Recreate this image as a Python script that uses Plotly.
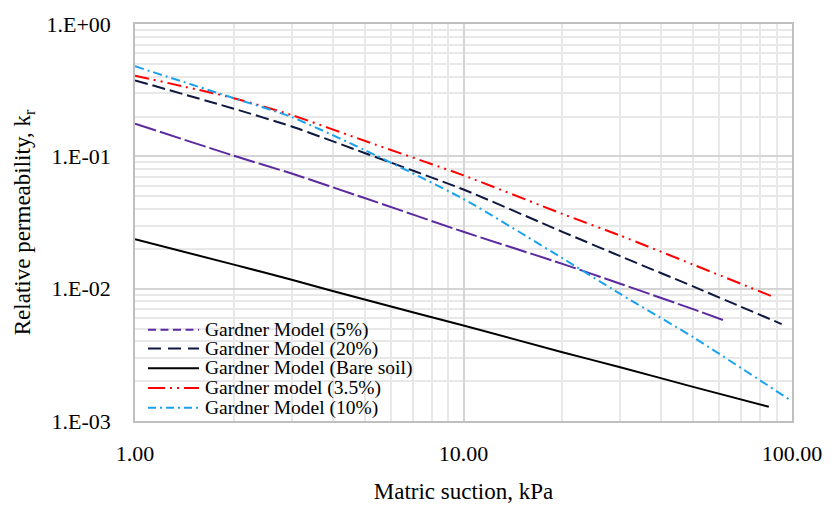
import plotly.graph_objects as go

# Matric suction (kPa) and relative permeability k_r for each Gardner model curve
suction_5 = [1, 2, 3, 5, 10, 20, 30, 50, 62]
kr_5 = [0.1765, 0.101, 0.0741, 0.0484, 0.0269, 0.0154, 0.0109, 0.0070, 0.00577]

suction_20 = [1, 2, 3, 5, 10, 20, 30, 50, 93]
kr_20 = [0.375, 0.229, 0.168, 0.106, 0.0561, 0.0269, 0.0176, 0.0104, 0.0054]

suction_bare = [1, 2, 3, 5, 10, 20, 30, 50, 85]
kr_bare = [0.0236, 0.0152, 0.01166, 0.00827, 0.00527, 0.00331, 0.00255, 0.00181, 0.00128]

suction_3p5 = [1, 2, 3, 5, 10, 20, 30, 50, 87.5]
kr_3p5 = [0.407, 0.275, 0.205, 0.131, 0.0718, 0.0367, 0.0252, 0.0152, 0.0087]

suction_10 = [1, 2, 3, 5, 10, 20, 30, 50, 100]
kr_10 = [0.479, 0.275, 0.198, 0.1116, 0.0476, 0.0170, 0.00912, 0.0043, 0.00141]

series_names = [
    "Gardner Model (5%)",
    "Gardner Model (20%)",
    "Gardner Model (Bare soil)",
    "Gardner model (3.5%)",
    "Gardner Model (10%)",
]

x_tickvals = [1, 10, 100]
x_ticktext = ["1.00", "10.00", "100.00"]
y_tickvals = [0.001, 0.01, 0.1, 1]
y_ticktext = ["1.E-03", "1.E-02", "1.E-01", "1.E+00"]

FONT = "Liberation Serif"

# colour, dash on the curve, dash in the key
styles = [
    ("#5B2A9E", "22px,4px", "8px,4.5px"),
    ("#0E1840", "13px,5px", "13px,7px"),
    ("#000000", "solid", "solid"),
    ("#FF0000", "14px,5px,2px,5px,2px,5px", "17px,5px,2px,5px,2px,5px"),
    ("#1AA3EC", "9px,4px,2px,4px", "8px,4px,2px,4px"),
]

data = [
    (suction_5, kr_5),
    (suction_20, kr_20),
    (suction_bare, kr_bare),
    (suction_3p5, kr_3p5),
    (suction_10, kr_10),
]

fig = go.Figure()
for (xs, ys), name, (color, dash, _) in zip(data, series_names, styles):
    fig.add_trace(go.Scatter(
        x=xs, y=ys, name=name, mode="lines",
        line=dict(color=color, width=2, dash=dash, shape="spline", smoothing=0.6),
        showlegend=False,
    ))

# Plot-area geometry in pixels (used for the key placed inside the plot)
L, R, T, B = 135, 792, 17, 439
W, H = 836, 512
pw, ph = R - L, B - T


def px_x(p):
    return (p - L) / pw


def px_y(p):
    return (B - p) / ph


shapes = []
annotations = []
# white key box
shapes.append(dict(type="rect", xref="paper", yref="paper", layer="between",
                   x0=px_x(140), x1=px_x(414), y0=px_y(435), y1=px_y(330),
                   fillcolor="white", line=dict(width=0)))
rows = [342, 362, 383, 404, 425]
for row, name, (color, _, kdash) in zip(rows, series_names, styles):
    shapes.append(dict(type="line", xref="paper", yref="paper", layer="above",
                       x0=px_x(148), x1=px_x(199), y0=px_y(row), y1=px_y(row),
                       line=dict(color=color, width=2, dash=kdash)))
    annotations.append(dict(xref="paper", yref="paper", x=px_x(203), y=px_y(row),
                            text=name, showarrow=False, xanchor="left", yanchor="middle",
                            font=dict(family=FONT, size=19.5, color="#000000")))

grid_major = "#D4D4D4"
grid_minor = "#E8E8E8"

fig.update_layout(
    width=W, height=H,
    margin=dict(l=L, r=W - R, t=T, b=H - B),
    paper_bgcolor="white", plot_bgcolor="white",
    font=dict(family=FONT, size=22, color="#000000"),
    shapes=shapes, annotations=annotations,
    showlegend=False,
    xaxis=dict(
        type="log", range=[0, 2],
        tickvals=x_tickvals, ticktext=x_ticktext,
        tickfont=dict(family=FONT, size=22),
        showgrid=True, gridcolor=grid_major, gridwidth=1.5,
        minor=dict(tickvals=[2, 3, 4, 5, 6, 7, 8, 9, 20, 30, 40, 50, 60, 70, 80, 90],
                   showgrid=True, gridcolor=grid_minor, gridwidth=1.5),
        showline=True, linecolor="#BFBFBF", linewidth=1.5, mirror=True,
        ticks="", ticklabelstandoff=12, zeroline=False,
        title=dict(text="Matric suction, kPa", font=dict(family=FONT, size=23), standoff=18),
    ),
    yaxis=dict(
        type="log", range=[-3, 0],
        tickvals=y_tickvals, ticktext=y_ticktext,
        tickfont=dict(family=FONT, size=22),
        showgrid=True, gridcolor=grid_major, gridwidth=1.5,
        minor=dict(tickvals=[m * d for d in (0.001, 0.01, 0.1) for m in range(2, 10)],
                   showgrid=True, gridcolor=grid_minor, gridwidth=1.5),
        showline=True, linecolor="#BFBFBF", linewidth=1.5, mirror=True,
        ticks="", ticklabelstandoff=18, zeroline=False,
        title=dict(text="Relative permeability, k<sub>r</sub>", font=dict(family=FONT, size=23),
                   standoff=9),
    ),
)

fig.write_html("out.html")
